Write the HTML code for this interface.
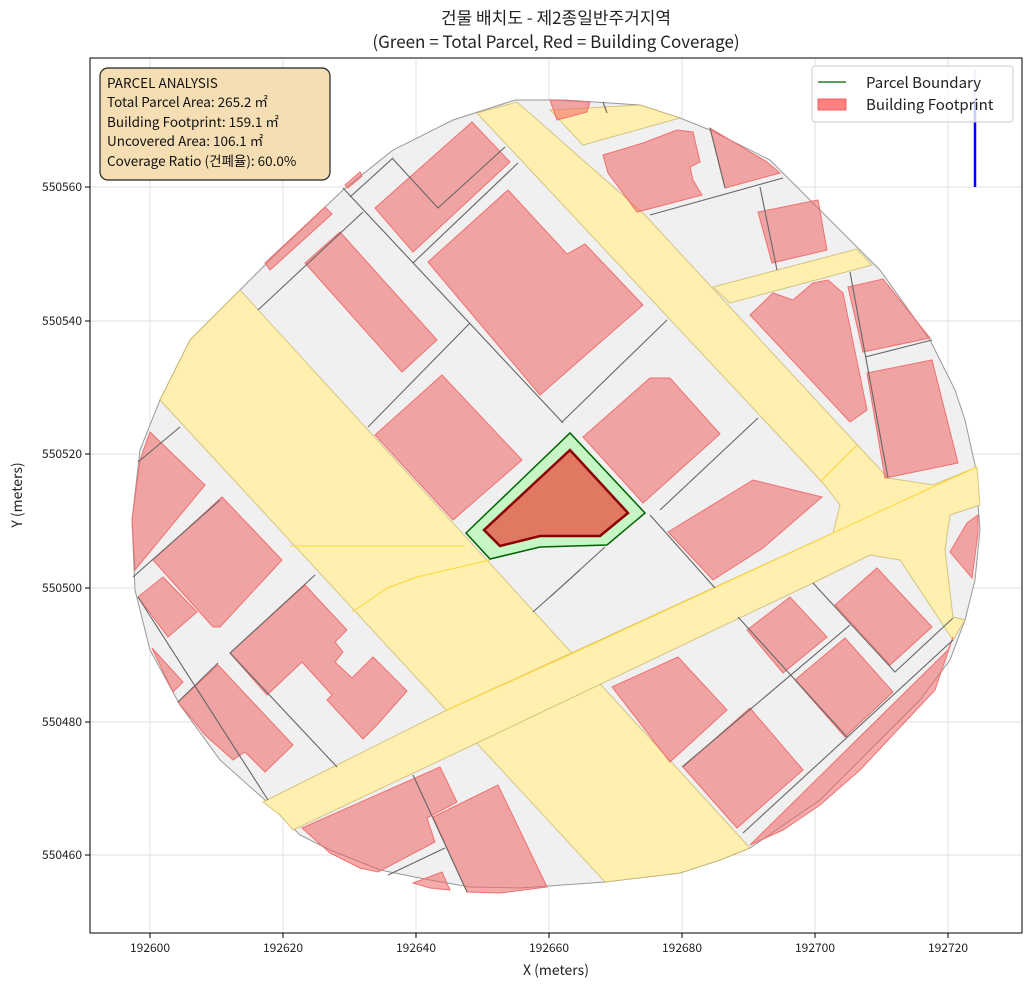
<!DOCTYPE html>
<html><head><meta charset="utf-8"><style>
body{margin:0;background:#fff}
svg text{font-family:"Noto Sans CJK KR","Liberation Sans",sans-serif}
</style></head><body>
<svg width="1031" height="990" viewBox="0 0 1031 990" xmlns="http://www.w3.org/2000/svg">
<rect width="1031" height="990" fill="#fff"/>
<text x="556" y="24" text-anchor="middle" font-size="17" fill="#222">건물 배치도 - 제2종일반주거지역</text>
<text x="556" y="48" text-anchor="middle" font-size="17" fill="#222">(Green = Total Parcel, Red = Building Coverage)</text>
<g stroke="#e2e2e2" stroke-width="1">
<line x1="150" y1="58" x2="150" y2="933"/><line x1="283" y1="58" x2="283" y2="933"/><line x1="416" y1="58" x2="416" y2="933"/><line x1="549" y1="58" x2="549" y2="933"/><line x1="682" y1="58" x2="682" y2="933"/><line x1="815" y1="58" x2="815" y2="933"/><line x1="948" y1="58" x2="948" y2="933"/>
<line x1="90" y1="187" x2="1022" y2="187"/><line x1="90" y1="321" x2="1022" y2="321"/><line x1="90" y1="454" x2="1022" y2="454"/><line x1="90" y1="588" x2="1022" y2="588"/><line x1="90" y1="722" x2="1022" y2="722"/><line x1="90" y1="855" x2="1022" y2="855"/>
</g>
<polygon fill="#f0f0f0" stroke="#999" stroke-width="1" points="132,520 140,450 160,400 190,340 240,290 280,250 343,190 393,150 453,120 515,100 565,100 640,105 680,118 710,130 770,160 810,200 850,240 880,270 930,340 955,390 965,420 975,465 980,530 975,580 965,620 950,660 920,700 880,740 820,800 750,848 720,860 680,873 605,882 520,888 470,887 430,880 380,870 330,850 300,835 265,800 220,760 180,705 150,650 135,590"/>
<g fill="#fff0b0" stroke="#c8b060" stroke-width="1" stroke-opacity="0.7">
<polygon points="160,400 190,340 240,290 750,848 720,860 680,873 605,882"/>
<polygon points="263,802 447,710 833,533 840,505 823,483 477,113 517,102 643,213 888,478 933,485 977,467 980,505 950,515 945,550 953,617 965,620 953,640 900,560 870,555 813,583 477,743 293,830 280,815"/>
<polygon points="550,110 640,105 680,118 583,145"/>
<polygon points="713,287 857,249 872,265 730,303"/>
</g>
<g fill="none" stroke="#ffd633" stroke-width="1">
<polyline points="290,546 465,546"/>
<polyline points="352,612 387,588 417,577 490,560"/>
<polyline points="447,710 580,650 937,485 977,467"/>
<polyline points="820,482 857,445"/>
</g>
<g fill="rgba(240,100,100,0.55)" stroke="#f07070" stroke-width="1">
<polygon points="375,208 472,122 510,162 413,252"/>
<polygon points="305,263 340,232 437,340 402,372"/>
<polygon points="265,263 325,207 332,214 270,270"/>
<polygon points="345,185 360,172 362,176 348,188"/>
<polygon points="428,262 508,190 567,254 585,244 643,305 540,395"/>
<polygon points="375,435 442,375 522,460 453,520"/>
<polygon points="583,437 650,378 670,378 720,434 643,503"/>
<polygon points="603,155 643,143 677,130 693,132 700,162 690,167 693,180 702,195 637,212 608,173"/>
<polygon points="710,128 767,162 780,173 725,188"/>
<polygon points="758,212 818,200 827,250 772,263"/>
<polygon points="750,315 773,293 793,300 813,283 828,280 843,293 867,410 850,422"/>
<polygon points="848,287 883,279 930,338 863,352"/>
<polygon points="867,373 932,360 958,463 885,478"/>
<polygon points="668,532 753,480 822,497 763,548 713,580"/>
<polygon points="612,687 678,657 727,710 670,762"/>
<polygon points="683,767 750,708 803,770 737,828"/>
<polygon points="747,630 790,597 827,637 783,673"/>
<polygon points="795,680 845,638 893,692 845,737"/>
<polygon points="835,605 877,568 932,627 890,665"/>
<polygon points="750,845 948,650 953,637 935,690 905,722 860,770 820,805 783,830"/>
<polygon points="950,552 967,523 978,515 978,533 972,578"/>
<polygon points="150,432 205,485 135,570 132,520 140,460"/>
<polygon points="153,560 222,497 282,560 220,627 213,627"/>
<polygon points="138,597 163,577 197,612 168,637"/>
<polygon points="152,648 183,682 173,692"/>
<polygon points="178,702 218,665 293,745 265,772 245,752 233,760 205,735"/>
<polygon points="230,653 305,585 347,630 335,642 343,652 335,662 352,678 373,657 407,691 377,725 363,739 327,700 332,695 302,662 267,695"/>
<polygon points="302,828 440,767 457,802 427,818 435,842 378,872 360,868 330,853"/>
<polygon points="433,817 498,785 547,887 500,893 467,892"/>
<polygon points="413,883 442,872 450,890 430,888"/>
<polygon points="550,100 590,102 587,112 557,120"/>
</g>
<g stroke="#666" stroke-width="1.1" fill="none">
<polyline points="392,158 438,208 505,147"/>
<line x1="343" y1="188" x2="563" y2="423"/>
<line x1="350" y1="197" x2="393" y2="158"/>
<line x1="258" y1="310" x2="363" y2="212"/>
<line x1="413" y1="263" x2="518" y2="163"/>
<line x1="368" y1="427" x2="470" y2="323"/>
<line x1="562" y1="422" x2="667" y2="320"/>
<line x1="660" y1="510" x2="758" y2="418"/>
<line x1="650" y1="215" x2="783" y2="178"/>
<line x1="710" y1="128" x2="725" y2="188"/>
<line x1="760" y1="187" x2="777" y2="270"/>
<line x1="603" y1="102" x2="607" y2="113"/>
<line x1="850" y1="272" x2="888" y2="478"/>
<line x1="865" y1="357" x2="932" y2="340"/>
<line x1="650" y1="515" x2="715" y2="588"/>
<line x1="550" y1="597" x2="605" y2="547"/>
<line x1="738" y1="617" x2="847" y2="737"/>
<line x1="682" y1="767" x2="850" y2="625"/>
<polyline points="813,583 895,672 953,618"/>
<line x1="743" y1="833" x2="953" y2="640"/>
<line x1="133" y1="577" x2="220" y2="500"/>
<line x1="138" y1="597" x2="268" y2="800"/>
<line x1="178" y1="702" x2="218" y2="663"/>
<line x1="230" y1="653" x2="315" y2="575"/>
<line x1="230" y1="653" x2="337" y2="767"/>
<line x1="533" y1="612" x2="580" y2="570"/>
<line x1="413" y1="775" x2="467" y2="892"/>
<line x1="388" y1="875" x2="445" y2="848"/>
<line x1="138" y1="462" x2="180" y2="427"/>
</g>
<polygon points="466,533 570,433 645,513 607,545 540,547 490,559" fill="#c6f5c6" stroke="#006400" stroke-width="1.5"/>
<polygon points="484,530 570,450 628,513 600,536 540,536 500,546" fill="#e07862" stroke="#8b0000" stroke-width="2.5"/>
<line x1="975" y1="70" x2="975" y2="100" stroke="#b0b8ff" stroke-width="2.5"/>
<line x1="975" y1="100" x2="975" y2="187" stroke="#0000ff" stroke-width="2.5"/>
<rect x="90" y="58" width="932" height="875" fill="none" stroke="#000" stroke-width="1"/>
<rect x="100" y="68" width="230" height="112" rx="8" fill="#f5deb3" stroke="#222" stroke-width="1.2"/>
<g font-size="13.5" fill="#111">
<text x="107" y="88">PARCEL ANALYSIS</text>
<text x="107" y="107">Total Parcel Area: 265.2 ㎡</text>
<text x="107" y="127">Building Footprint: 159.1 ㎡</text>
<text x="107" y="146">Uncovered Area: 106.1 ㎡</text>
<text x="107" y="166">Coverage Ratio (건폐율): 60.0%</text>
</g>
<rect x="812" y="66" width="201" height="56" rx="3" fill="#fff" fill-opacity="0.8" stroke="#ccc"/>
<line x1="818" y1="82" x2="846" y2="82" stroke="#006400" stroke-width="1.2"/>
<text x="866" y="88" font-size="15" fill="#222">Parcel Boundary</text>
<rect x="818" y="99" width="28" height="11" fill="#ff8080" stroke="#f06060"/>
<text x="866" y="110" font-size="15" fill="#222">Building Footprint</text>
<g stroke="#000" stroke-width="1">
<line x1="150" y1="933" x2="150" y2="938"/><line x1="283" y1="933" x2="283" y2="938"/><line x1="416" y1="933" x2="416" y2="938"/><line x1="549" y1="933" x2="549" y2="938"/><line x1="682" y1="933" x2="682" y2="938"/><line x1="815" y1="933" x2="815" y2="938"/><line x1="948" y1="933" x2="948" y2="938"/>
<line x1="85" y1="187" x2="90" y2="187"/><line x1="85" y1="321" x2="90" y2="321"/><line x1="85" y1="454" x2="90" y2="454"/><line x1="85" y1="588" x2="90" y2="588"/><line x1="85" y1="722" x2="90" y2="722"/><line x1="85" y1="855" x2="90" y2="855"/>
</g>
<g font-size="12" fill="#222" text-anchor="middle">
<text x="150" y="952">192600</text><text x="283" y="952">192620</text><text x="416" y="952">192640</text><text x="549" y="952">192660</text><text x="682" y="952">192680</text><text x="815" y="952">192700</text><text x="948" y="952">192720</text>
</g>
<g font-size="12" fill="#222" text-anchor="end">
<text x="82" y="191">550560</text><text x="82" y="325">550540</text><text x="82" y="458">550520</text><text x="82" y="592">550500</text><text x="82" y="726">550480</text><text x="82" y="859">550460</text>
</g>
<text x="556" y="975" text-anchor="middle" font-size="14" fill="#222">X (meters)</text>
<text x="22" y="495" text-anchor="middle" font-size="14" fill="#222" transform="rotate(-90 22 495)">Y (meters)</text>
</svg>
</body></html>
